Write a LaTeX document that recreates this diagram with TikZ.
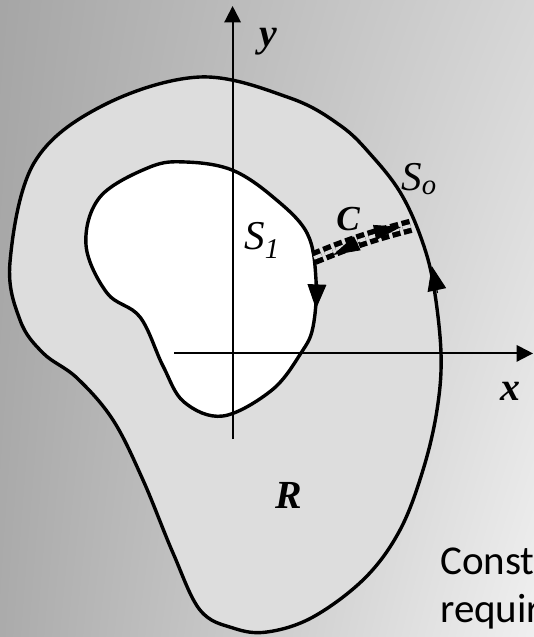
\documentclass[tikz,border=0pt]{standalone}
\usepackage{fontspec}
\setmainfont{Liberation Serif}
\newfontfamily\notefont{Carlito}
\usetikzlibrary{arrows.meta, shadings}
\begin{document}
\begin{tikzpicture}[x=0.03cm, y=-0.03cm,
    curve/.style={line width=2.9pt, line join=round},
    axisline/.style={line width=1.7pt, -{Triangle[length=14pt, width=14pt]}},
    flowtip/.style={line width=1pt, -{Triangle[length=21pt, width=16pt]}},
    cuttip/.style={line width=0.6pt, -{Triangle[length=23pt, width=13pt]}},
    cutline/.style={line width=4.6pt, double=gray!27, double distance=3pt,
      dash pattern=on 7pt off 3pt},
    mathlbl/.style={font=\fontsize{34}{40}\selectfont\bfseries\itshape},
    setlbl/.style={font=\fontsize{35}{42}\selectfont\itshape}]
    % page and background
    \useasboundingbox (0,0) rectangle (534,637);
    \clip (0,0) rectangle (534,637);
    \shade[upper left=gray!70, upper right=gray!32,
      lower left=gray!66, lower right=gray!12] (0,0) rectangle (534,637);
    % region R with the hole
    \fill[gray!27] plot[smooth cycle, tension=0.6] coordinates {
      (10,262) (20,320) (43,353) (77,378) (113,420) (143,480) (173,553)
      (200,610) (233,628) (267,632) (313,617) (365,578) (400,530) (423,470)
      (437,410) (441,353) (433,282) (420,235) (400,192) (372,156) (341,126)
      (290,98) (200,77) (102,106) (34,163)};
    \fill[white] plot[smooth cycle, tension=0.6] coordinates {
      (186,162) (232,170) (273,197) (307,233) (316,280) (313,327) (301,353)
      (272,390) (223,416) (184,402) (163,366) (140,317) (107,293) (86,245)
      (100,197) (150,167)};
    % axes
    \coordinate (ybot) at (232.6,439);
    \coordinate (ytop) at (232.6,6);
    \coordinate (xleft) at (174,353.4);
    \coordinate (xright) at (533,353.4);
    \draw[axisline] (ybot) -- (ytop);
    \draw[axisline] (xleft) -- (xright);
    % boundaries S_o and S_1
    \draw[curve] plot[smooth cycle, tension=0.6] coordinates {
      (10,262) (20,320) (43,353) (77,378) (113,420) (143,480) (173,553)
      (200,610) (233,628) (267,632) (313,617) (365,578) (400,530) (423,470)
      (437,410) (441,353) (433,282) (420,235) (400,192) (372,156) (341,126)
      (290,98) (200,77) (102,106) (34,163)};
    \draw[curve] plot[smooth cycle, tension=0.6] coordinates {
      (186,162) (232,170) (273,197) (307,233) (316,280) (313,327) (301,353)
      (272,390) (223,416) (184,402) (163,366) (140,317) (107,293) (86,245)
      (100,197) (150,167)};
    % direction marks on the boundaries
    \coordinate (souta) at (437.5,293);
    \coordinate (soutb) at (431.8,266);
    \coordinate (sina) at (317,283);
    \coordinate (sinb) at (316,309);
    \draw[flowtip] (souta) -- (soutb);
    \draw[flowtip] (sina) -- (sinb);
    % cut C
    \coordinate (cin) at (314,258);
    \coordinate (cout) at (414,225);
    \draw[cutline] (cin) to[bend left=4] (cout);
    \coordinate (cba) at (360,242);
    \coordinate (cbb) at (333,255);
    \coordinate (cfa) at (372,233);
    \coordinate (cfb) at (401,227);
    \draw[cuttip] (cba) -- (cbb);
    \draw[cuttip] (cfa) -- (cfb);
    % labels
    \node[mathlbl] (ylbl) at (268,42) {y};
    \node[mathlbl] (xlbl) at (510,391) {x};
    \node[mathlbl, font=\fontsize{30}{36}\selectfont\bfseries\itshape]
      (clbl) at (348,219) {C};
    \node[mathlbl] (rlbl) at (289,495) {R};
    \node[setlbl] (solbl) at (419,179) {S\textsubscript{o}};
    \node[setlbl] (s1lbl) at (262,240) {S\textsubscript{1}};
    % caption text, cut off at the page edge
    \node[anchor=base west, inner sep=0pt,
      font=\notefont\fontsize{35}{42}\selectfont] (note1) at (440,574) {Const};
    \node[anchor=base west, inner sep=0pt,
      font=\notefont\fontsize{35}{42}\selectfont] (note2) at (440,622) {requir};
\end{tikzpicture}
\end{document}
